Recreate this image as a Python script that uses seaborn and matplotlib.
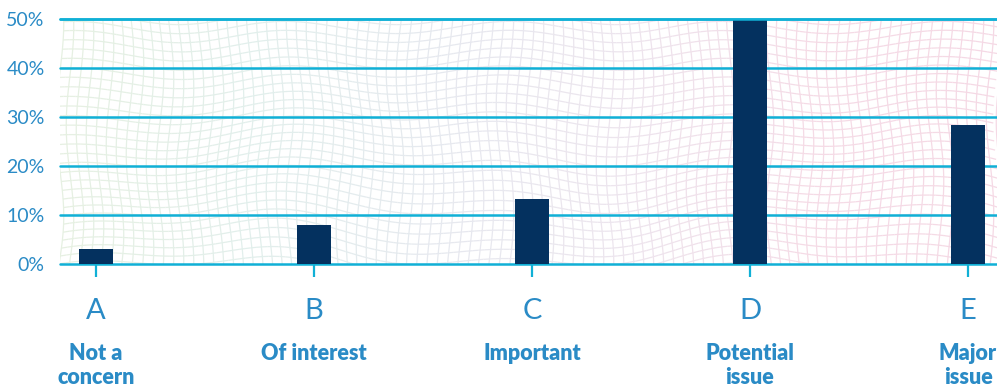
import numpy as np
import matplotlib
matplotlib.use("Agg")
import matplotlib.pyplot as plt
import seaborn as sns
from matplotlib.collections import LineCollection
from matplotlib.colors import LinearSegmentedColormap
from matplotlib.ticker import FuncFormatter

categories = ["A", "B", "C", "D", "E"]
descriptions = ["Not a\nconcern", "Of interest", "Important", "Potential\nissue", "Major\nissue"]
shares = [3.0, 8.0, 13.3, 50.0, 28.4]
y_ticks = [0, 10, 20, 30, 40, 50]

NAVY = "#04315f"
CYAN = "#10b0d6"
TEXT = "#2a8bc6"

sns.set_theme(style="white")
plt.rcParams["font.family"] = ["Lato", "DejaVu Sans"]

fig = plt.figure(figsize=(9.97, 3.87), dpi=100)
ax = fig.add_axes([60 / 997, 123 / 387, 937 / 997, 245 / 387])

# --- decorative warped mesh behind the bars ---
mesh_cmap = LinearSegmentedColormap.from_list(
    "mesh", ["#e6f0e2", "#e2efec", "#e6e9ef", "#ede5ee", "#f5dbe6", "#f5d9e5"]
)


def warp(u, v):
    dx = 0.004 * np.sin(2 * np.pi * (v * 1.3 + u * 2.0))
    dy = (0.05 * np.sin(2 * np.pi * (u * 1.6 - v * 0.4)) * (0.5 + 0.5 * np.cos(np.pi * v))
          + 0.025 * np.sin(2 * np.pi * (u * 4.3 + 0.2)))
    return u + dx, v + dy


segs, cols = [], []
vv = np.linspace(-0.1, 1.1, 80)
for u in np.arange(0, 1.01, 10 / 937):
    x, y = warp(np.full_like(vv, u), vv)
    segs.append(np.column_stack([x, y]))
    cols.append(mesh_cmap(u))
uu = np.linspace(0, 1, 160)
for v in np.arange(-0.1, 1.1, 9 / 245):
    x, y = warp(uu, np.full_like(uu, v))
    pts = np.column_stack([x, y])
    for k in range(len(uu) - 1):
        segs.append(pts[k:k + 2])
        cols.append(mesh_cmap(uu[k]))
mesh = LineCollection(segs, colors=cols, linewidths=0.9, transform=ax.transAxes, zorder=0.1)
ax.add_collection(mesh)

# --- bars ---
sns.barplot(x=categories, y=shares, width=0.156, color=NAVY, saturation=1,
            linewidth=0, ax=ax, zorder=2)

ax.set_xlim(-0.165, 4.133)
ax.set_ylim(0, 50)
ax.set_yticks(y_ticks)
ax.yaxis.set_major_formatter(FuncFormatter(lambda v, _: f"{int(v)}%"))
ax.yaxis.grid(True, color=CYAN, linewidth=1.8)
ax.xaxis.grid(False)
ax.set_axisbelow(True)
for gl in ax.get_ygridlines():
    gl.set_clip_on(False)
# the top rule stays visible above the tallest bar
ax.axhline(y_ticks[-1], color=CYAN, linewidth=1.8, zorder=3, clip_on=False)

for s in ax.spines.values():
    s.set_visible(False)
ax.set_facecolor("none")

ax.tick_params(axis="y", length=0, pad=11, labelsize=14, labelcolor=TEXT)
ax.tick_params(axis="x", length=9.5, width=1.6, color=CYAN, direction="out",
               pad=15, labelsize=21, labelcolor=TEXT, bottom=True)
for lbl in ax.get_xticklabels():
    lbl.set_fontweight("normal")

for i, desc in enumerate(descriptions):
    ax.text(i, -0.322, desc, transform=ax.get_xaxis_transform(), ha="center", va="top",
            fontsize=15.5, fontweight="heavy", color=TEXT, linespacing=1.2)

ax.set_xlabel("")
ax.set_ylabel("")
fig.savefig("out.png", dpi=100)
